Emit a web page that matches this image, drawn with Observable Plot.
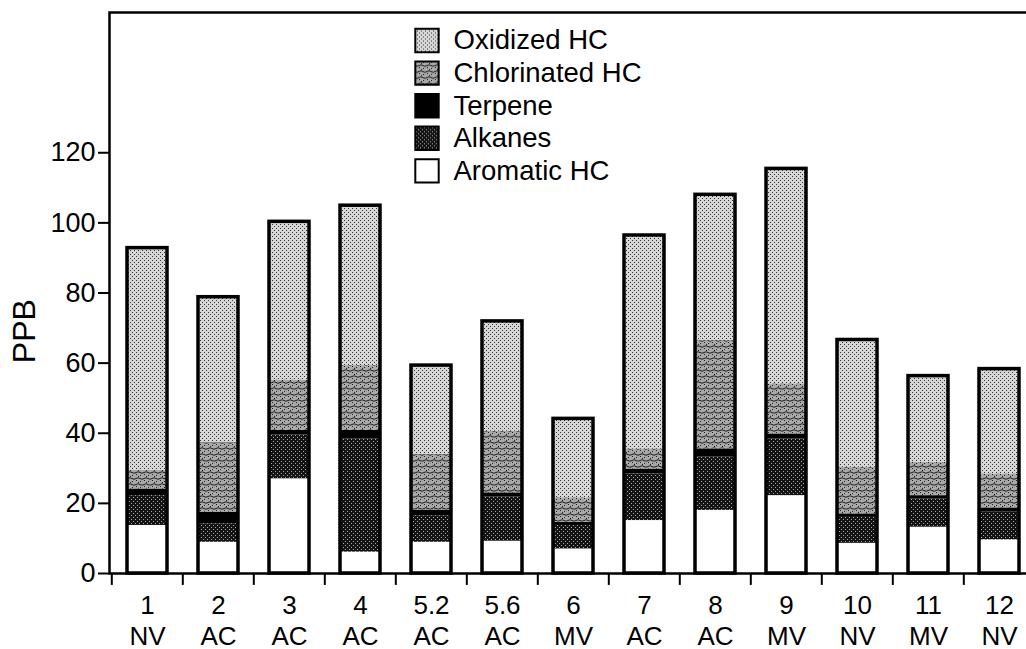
<!DOCTYPE html>
<html>
<head>
<meta charset="utf-8">
<script src="https://cdn.jsdelivr.net/npm/d3@7"></script>
<script src="https://cdn.jsdelivr.net/npm/@observablehq/plot@0.6"></script>
<style>
  html, body { margin: 0; padding: 0; background: #fff; }
</style>
</head>
<body>
<div id="chart"></div>
<script>
const ids   = ["1","2","3","4","5.2","5.6","6","7","8","9","10","11","12"];
const types = ["NV","AC","AC","AC","AC","AC","MV","AC","AC","MV","NV","MV","NV"];
const yTicks = [0, 20, 40, 60, 80, 100, 120];

const aromatic    = [13.7, 8.9, 27.0, 6.1, 8.9, 9.2, 7.0, 15.1, 18.0, 22.2, 8.6, 13.2, 9.6];
const alkanes     = [8.5, 5.3, 12.5, 32.3, 7.6, 12.6, 6.7, 13.3, 15.2, 16.2, 7.4, 8.1, 7.9];
const terpene     = [1.9, 3.3, 1.3, 2.4, 1.6, 1.2, 0.9, 1.4, 2.3, 1.4, 1.0, 0.9, 1.2];
const chlorinated = [5.3, 19.8, 14.4, 18.5, 15.8, 17.6, 7.0, 5.7, 30.9, 14.3, 13.3, 9.5, 9.7];
const oxidized    = [63.4, 41.5, 45.1, 45.6, 25.4, 31.3, 22.5, 60.9, 41.6, 61.3, 36.3, 24.6, 29.9];

// stacking order bottom -> top
const seriesNames = ["Aromatic HC", "Alkanes", "Terpene", "Chlorinated HC", "Oxidized HC"];
const seriesValues = [aromatic, alkanes, terpene, chlorinated, oxidized];
const seriesFills = ["#ffffff", "url(#pAlk)", "#000000", "url(#pChl)", "url(#pOxi)"];
const legendOrder = ["Oxidized HC", "Chlorinated HC", "Terpene", "Alkanes", "Aromatic HC"];

const rows = [];
ids.forEach((id, i) => {
  seriesNames.forEach((s, k) => rows.push({id, series: s, value: seriesValues[k][i]}));
});
const totals = ids.map((id, i) => seriesValues.reduce((a, arr) => a + arr[i], 0));

const W = 1026, H = 649;
const mL = 109, mR = -11, mT = 12, mB = 76;
const step = (W - mL - mR) / ids.length;
const font = "'Liberation Sans', Arial, Helvetica, sans-serif";

const legendMarks = [];
legendOrder.forEach((s, i) => {
  const fill = seriesFills[seriesNames.indexOf(s)];
  legendMarks.push(Plot.dot([s], {
    frameAnchor: "top-left", dx: 317.5, dy: 28 + i * 32.6,
    symbol: "square", r: 13.2, fill, stroke: "black", strokeWidth: 2
  }));
  legendMarks.push(Plot.text([s], {
    frameAnchor: "top-left", dx: 344, dy: 28 + i * 32.6,
    text: d => d, textAnchor: "start", lineAnchor: "middle", fontSize: 27.5, fill: "black"
  }));
});

const chart = Plot.plot({
  width: W, height: H,
  marginLeft: mL, marginRight: mR, marginTop: mT, marginBottom: mB,
  style: {fontFamily: font, background: "white", color: "black", overflow: "visible"},
  x: {type: "band", domain: ids, paddingInner: 0.43, paddingOuter: 0.215},
  y: {domain: [0, 160]},
  color: {type: "ordinal", domain: seriesNames, range: seriesFills},
  marks: [
    Plot.barY(rows, {x: "id", y: "value", fill: "series"}),
    Plot.barY(ids, {x: d => d, y: (d, i) => totals[i], fill: "none", stroke: "black", strokeWidth: 3.5}),
    Plot.frame({stroke: "black", strokeWidth: 2.5}),
    Plot.ruleX(ids, {x: d => d, y1: 0, y2: -3.4, dx: -step / 2, stroke: "black", strokeWidth: 2}),
    Plot.axisY({ticks: yTicks, tickSize: 11, tickPadding: 3, fontSize: 27, label: null, strokeWidth: 2}),
    Plot.text(["PPB"], {y: [60], frameAnchor: "left", rotate: -90, dx: -85, text: d => d, fontSize: 32, fill: "black"}),
    Plot.axisX({tickSize: 0, tickPadding: 18, fontSize: 26, lineHeight: 1.2, label: null,
      tickFormat: d => d + "\n" + types[ids.indexOf(d)]}),
    ...legendMarks
  ]
});

d3.select(chart).insert("defs", ":first-child").html(`
  <pattern id="pOxi" width="4" height="4" patternUnits="userSpaceOnUse">
    <rect width="4" height="4" fill="#d6d6d6"/>
    <rect x="0" y="0" width="1" height="1" fill="#333"/>
    <rect x="2" y="2" width="1" height="1" fill="#333"/>
  </pattern>
  <pattern id="pChl" width="8" height="6" patternUnits="userSpaceOnUse">
    <rect width="8" height="6" fill="#a8a8a8"/>
    <rect x="0" y="0" width="1" height="1" fill="#222"/>
    <rect x="4" y="1" width="1" height="1" fill="#222"/>
    <rect x="2" y="2" width="1" height="1" fill="#222"/>
    <path d="M0 4.5 Q2 3 4 4.5 T8 4.5" fill="none" stroke="#1a1a1a" stroke-width="1"/>
  </pattern>
  <pattern id="pAlk" width="4" height="4" patternUnits="userSpaceOnUse">
    <rect width="4" height="4" fill="#141414"/>
    <rect x="1" y="1" width="1" height="1" fill="#a8a8a8"/>
    <rect x="3" y="3" width="1" height="1" fill="#a8a8a8"/>
  </pattern>
`);

document.getElementById("chart").appendChild(chart);
</script>
</body>
</html>
